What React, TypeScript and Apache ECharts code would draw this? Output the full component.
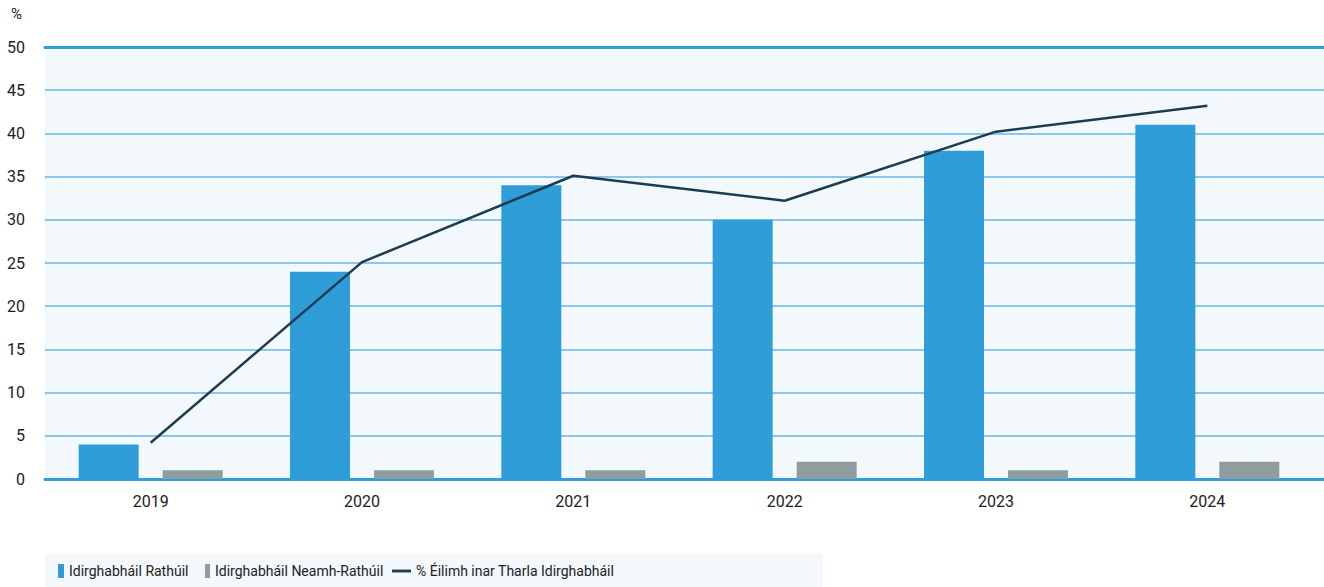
import React, { useEffect, useRef } from "react";
import * as echarts from "echarts";

const years = ["2019", "2020", "2021", "2022", "2023", "2024"];
const successful = [4, 24, 34, 30, 38, 41];
const unsuccessful = [1, 1, 1, 2, 1, 2];
const claimsPct = [4.2, 25.1, 35.1, 32.2, 40.2, 43.2];
const seriesNames = [
  "Idirghabháil Rathúil",
  "Idirghabháil Neamh-Rathúil",
  "% Éilimh inar Tharla Idirghabháil",
];

const FONT = "Roboto, sans-serif";
const BLUE = "#2E9DD8";
const GREY = "#8E9E9F";
const DARK = "#1C3D4F";

export default function App() {
  const ref = useRef<HTMLDivElement>(null);
  useEffect(() => {
    const chart = echarts.init(ref.current!, undefined, { renderer: "svg" });
    const top = 47;
    const bottom = 108;
    const legendText = { fontSize: 14, color: "#222", fontFamily: FONT };
    chart.setOption({
      animation: false,
      textStyle: { fontFamily: FONT },
      graphic: [
        {
          type: "rect",
          left: 45,
          top: 554,
          shape: { width: 778, height: 33 },
          style: { fill: "#F3F8FC" },
          z: -1,
        },
        {
          type: "text",
          left: 11,
          top: 6,
          style: { text: "%", fontSize: 15, fill: "#222", fontFamily: FONT },
        },
      ],
      legend: [
        {
          data: [{ name: seriesNames[0], icon: "rect" }],
          left: 58,
          top: 564,
          padding: 0,
          itemWidth: 6,
          itemHeight: 14,
          textStyle: legendText,
        },
        {
          data: [{ name: seriesNames[1], icon: "rect" }],
          left: 205,
          top: 564,
          padding: 0,
          itemWidth: 5,
          itemHeight: 14,
          textStyle: legendText,
        },
        {
          data: [{ name: seriesNames[2], icon: "path://M0,0 L20,0 L20,3 L0,3 Z" }],
          left: 392,
          top: 564,
          padding: 0,
          itemWidth: 19,
          itemHeight: 3,
          textStyle: legendText,
        },
      ],
      grid: [
        {
          left: 45,
          right: 0,
          top,
          bottom,
          show: true,
          backgroundColor: "#F3F8FC",
          borderWidth: 0,
        },
        { left: 45, right: 11, top, bottom },
      ],
      xAxis: [
        {
          type: "value",
          gridIndex: 0,
          position: "top",
          min: 0,
          max: 1,
          axisLine: { show: true, onZero: false, lineStyle: { color: BLUE, width: 3 } },
          axisTick: { show: false },
          axisLabel: { show: false },
          splitLine: { show: false },
        },
        {
          type: "value",
          gridIndex: 0,
          position: "bottom",
          min: 0,
          max: 1,
          axisLine: { show: true, onZero: false, lineStyle: { color: BLUE, width: 3 } },
          axisTick: { show: false },
          axisLabel: { show: false },
          splitLine: { show: false },
        },
        {
          type: "category",
          gridIndex: 1,
          data: years,
          axisLine: { show: false },
          axisTick: { show: false },
          axisLabel: { fontSize: 16, color: "#222", margin: 14, fontFamily: FONT },
        },
      ],
      yAxis: [
        {
          type: "value",
          gridIndex: 0,
          min: 0,
          max: 50,
          interval: 5,
          axisLine: { show: false },
          axisTick: { show: false },
          axisLabel: { show: false },
          splitLine: { show: true, lineStyle: { color: "#6AB7E4", width: 1.5 } },
        },
        {
          type: "value",
          gridIndex: 1,
          min: 0,
          max: 50,
          interval: 5,
          axisLine: { show: false },
          axisTick: { show: false },
          axisLabel: { fontSize: 16, color: "#222", margin: 20, fontFamily: FONT },
          splitLine: { show: false },
        },
      ],
      series: [
        {
          name: seriesNames[0],
          type: "bar",
          xAxisIndex: 2,
          yAxisIndex: 1,
          data: successful,
          barWidth: 60,
          barGap: "40%",
          itemStyle: { color: BLUE },
          z: 3,
        },
        {
          name: seriesNames[1],
          type: "bar",
          xAxisIndex: 2,
          yAxisIndex: 1,
          data: unsuccessful,
          barWidth: 60,
          barGap: "40%",
          itemStyle: { color: GREY },
          z: 3,
        },
        {
          name: seriesNames[2],
          type: "line",
          xAxisIndex: 2,
          yAxisIndex: 1,
          data: claimsPct,
          showSymbol: false,
          symbol: "none",
          lineStyle: { color: DARK, width: 2.5 },
          itemStyle: { color: DARK },
          z: 4,
        },
      ],
    });
    return () => chart.dispose();
  }, []);
  return <div ref={ref} style={{ width: 1324, height: 587, position: "absolute", left: 0, top: 0 }} />;
}
